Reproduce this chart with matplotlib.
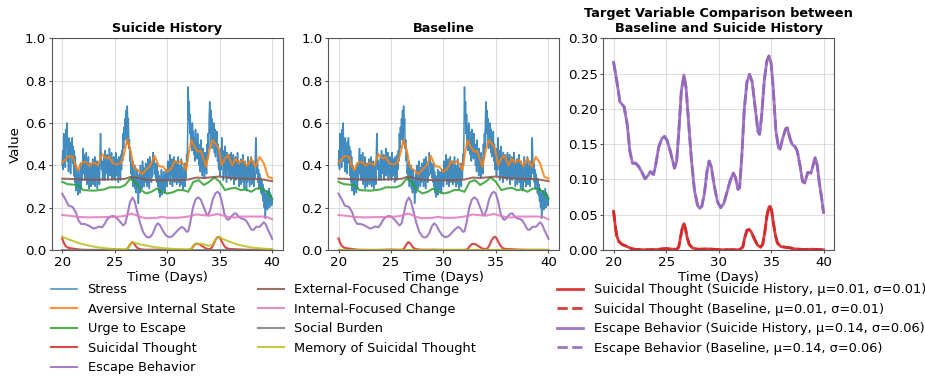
import numpy as np
import matplotlib
matplotlib.use("Agg")
import matplotlib.pyplot as plt

# ---------------- data ----------------
stress_t0, stress_dt = 20.0, 0.05
stress = [
    0.40, 0.47, 0.38, 0.55, 0.44, 0.52, 0.39, 0.57, 0.48, 0.60, 0.42, 0.50, 0.37, 0.53, 0.45, 0.49, 0.36, 0.51, 0.44, 0.53,
    0.41, 0.49, 0.35, 0.47, 0.32, 0.44, 0.28, 0.40, 0.31, 0.36, 0.26, 0.38, 0.30, 0.35, 0.27, 0.41, 0.29, 0.37, 0.33, 0.42,
    0.48, 0.36, 0.45, 0.33, 0.43, 0.37, 0.46, 0.31, 0.40, 0.35, 0.44, 0.29, 0.38, 0.33, 0.41, 0.30, 0.37, 0.34, 0.43, 0.31,
    0.39, 0.32, 0.44, 0.30, 0.38, 0.35, 0.42, 0.29, 0.36, 0.33, 0.40, 0.31, 0.45, 0.55, 0.47, 0.38, 0.42, 0.33, 0.39, 0.35,
    0.44, 0.33, 0.47, 0.36, 0.41, 0.38, 0.45, 0.33, 0.42, 0.36, 0.48, 0.35, 0.43, 0.37, 0.46, 0.33, 0.41, 0.36, 0.44, 0.34,
    0.40, 0.33, 0.46, 0.35, 0.43, 0.37, 0.41, 0.32, 0.44, 0.36, 0.40, 0.33, 0.45, 0.38, 0.47, 0.42, 0.55, 0.48, 0.58, 0.52,
    0.62, 0.55, 0.66, 0.50, 0.68, 0.58, 0.62, 0.48, 0.52, 0.42, 0.46, 0.36, 0.40, 0.33, 0.42, 0.30, 0.37, 0.32, 0.40, 0.29,
    0.34, 0.27, 0.38, 0.30, 0.33, 0.22, 0.30, 0.36, 0.27, 0.40, 0.31, 0.37, 0.29, 0.42, 0.33, 0.39, 0.30, 0.36, 0.32, 0.41,
    0.34, 0.40, 0.30, 0.43, 0.35, 0.39, 0.29, 0.44, 0.36, 0.41, 0.32, 0.38, 0.35, 0.46, 0.40, 0.43, 0.36, 0.41, 0.34, 0.39,
    0.32, 0.41, 0.30, 0.37, 0.27, 0.35, 0.25, 0.33, 0.29, 0.38, 0.26, 0.34, 0.30, 0.37, 0.28, 0.35, 0.27, 0.38, 0.31, 0.36,
    0.30, 0.42, 0.33, 0.40, 0.35, 0.45, 0.31, 0.41, 0.36, 0.43, 0.30, 0.39, 0.34, 0.44, 0.32, 0.40, 0.35, 0.42, 0.31, 0.38,
    0.35, 0.44, 0.32, 0.40, 0.30, 0.38, 0.33, 0.43, 0.31, 0.39, 0.29, 0.36, 0.33, 0.41, 0.30, 0.37, 0.34, 0.45, 0.40, 0.55,
    0.77, 0.62, 0.70, 0.55, 0.64, 0.50, 0.58, 0.47, 0.60, 0.52, 0.56, 0.45, 0.53, 0.42, 0.57, 0.46, 0.51, 0.43, 0.55, 0.44,
    0.50, 0.40, 0.47, 0.37, 0.52, 0.41, 0.45, 0.35, 0.48, 0.39, 0.43, 0.34, 0.46, 0.38, 0.41, 0.36, 0.50, 0.43, 0.55, 0.48,
    0.63, 0.70, 0.55, 0.66, 0.50, 0.62, 0.48, 0.59, 0.52, 0.60, 0.46, 0.57, 0.44, 0.53, 0.48, 0.56, 0.42, 0.50, 0.38, 0.45,
    0.43, 0.35, 0.48, 0.38, 0.53, 0.40, 0.47, 0.33, 0.44, 0.37, 0.49, 0.35, 0.42, 0.32, 0.46, 0.38, 0.43, 0.34, 0.45, 0.36,
    0.41, 0.33, 0.46, 0.37, 0.43, 0.34, 0.45, 0.31, 0.40, 0.36, 0.44, 0.33, 0.41, 0.35, 0.46, 0.34, 0.42, 0.30, 0.39, 0.33,
    0.43, 0.31, 0.40, 0.34, 0.45, 0.32, 0.38, 0.29, 0.42, 0.33, 0.40, 0.28, 0.37, 0.32, 0.44, 0.34, 0.41, 0.30, 0.38, 0.35,
    0.44, 0.31, 0.39, 0.33, 0.42, 0.30, 0.37, 0.34, 0.46, 0.53, 0.44, 0.36, 0.41, 0.32, 0.38, 0.29, 0.36, 0.31, 0.34, 0.27,
    0.33, 0.26, 0.31, 0.23, 0.29, 0.20, 0.27, 0.15, 0.25, 0.21, 0.28, 0.19, 0.26, 0.22, 0.29, 0.20, 0.27, 0.23, 0.26, 0.21,
    0.24,
]

aversive_t = [20.0, 20.3, 20.6, 21.0, 21.3, 21.5, 21.8, 22.2, 22.6, 23.0, 23.4, 23.8, 24.2, 24.5,
              24.8, 25.2, 25.6, 25.9, 26.2, 26.5, 26.8, 27.2, 27.6, 28.0, 28.4, 28.8, 29.2, 29.6,
              30.0, 30.4, 30.7, 31.0, 31.3, 31.6, 31.8, 32.1, 32.3, 32.6, 32.9, 33.2, 33.5, 33.7,
              34.0, 34.3, 34.6, 34.9, 35.2, 35.5, 35.8, 36.2, 36.5, 36.8, 37.2, 37.6, 38.0, 38.4,
              38.8, 39.2, 39.6, 40.0]
aversive = [0.412, 0.428, 0.443, 0.440, 0.393, 0.377, 0.410, 0.417, 0.398, 0.412, 0.400, 0.453,
            0.432, 0.440, 0.410, 0.404, 0.410, 0.456, 0.522, 0.472, 0.393, 0.377, 0.358, 0.380,
            0.400, 0.445, 0.396, 0.393, 0.370, 0.385, 0.420, 0.410, 0.420, 0.400, 0.377, 0.472,
            0.519, 0.487, 0.464, 0.469, 0.425, 0.393, 0.464, 0.519, 0.503, 0.480, 0.400, 0.432,
            0.448, 0.400, 0.432, 0.410, 0.425, 0.396, 0.432, 0.393, 0.440, 0.410, 0.346, 0.338]

urge_t = [20.0, 20.5, 21.5, 22.0, 23.0, 24.0, 24.5, 25.5, 26.0, 26.5, 27.0, 27.5, 28.0, 28.5,
          29.0, 29.5, 30.0, 30.5, 31.0, 31.5, 32.0, 32.5, 33.0, 33.5, 34.0, 34.5, 35.0, 35.5,
          36.0, 36.5, 37.0, 37.5, 38.0, 38.5, 39.0, 39.5, 40.0]
urge = [0.322, 0.311, 0.307, 0.283, 0.280, 0.286, 0.296, 0.296, 0.307, 0.338, 0.318, 0.283,
        0.267, 0.275, 0.290, 0.275, 0.267, 0.272, 0.283, 0.283, 0.275, 0.322, 0.330, 0.307,
        0.322, 0.343, 0.322, 0.283, 0.290, 0.294, 0.283, 0.286, 0.275, 0.290, 0.290, 0.275, 0.244]

thought_t = [20.0, 20.15, 20.3, 20.5, 20.8, 21.1, 21.4, 21.7, 22.0, 23.0, 24.0, 24.6, 25.0, 25.4,
             26.0, 26.2, 26.4, 26.6, 26.7, 26.85, 27.0, 27.2, 27.5, 28.0, 29.0, 30.0, 31.0, 32.0,
             32.3, 32.5, 32.7, 32.9, 33.1, 33.4, 33.7, 34.0, 34.2, 34.4, 34.6, 34.8, 34.9, 35.05,
             35.2, 35.4, 35.6, 35.9, 36.3, 36.8, 37.3, 38.0, 39.0, 40.0]
thought = [0.055, 0.035, 0.020, 0.012, 0.008, 0.006, 0.004, 0.002, 0.001, 0.0003, 0.0005, 0.0015,
           0.002, 0.0015, 0.0008, 0.004, 0.020, 0.035, 0.037, 0.030, 0.018, 0.008, 0.003, 0.001,
           0.0015, 0.0005, 0.0003, 0.0005, 0.004, 0.018, 0.028, 0.029, 0.026, 0.016, 0.007, 0.004,
           0.008, 0.025, 0.048, 0.061, 0.062, 0.056, 0.040, 0.022, 0.010, 0.005, 0.004, 0.003,
           0.0015, 0.0008, 0.001, 0.0003]

escape_t = [20.0, 20.3, 20.6, 21.0, 21.3, 21.55, 21.8, 22.1, 22.4, 22.7, 23.0, 23.3, 23.5, 23.8,
            24.0, 24.3, 24.6, 24.85, 25.1, 25.4, 25.8, 26.0, 26.2, 26.45, 26.7, 26.9, 27.1, 27.4,
            27.7, 28.0, 28.2, 28.4, 28.65, 28.9, 29.1, 29.3, 29.6, 29.9, 30.2, 30.5, 30.8, 31.1,
            31.4, 31.6, 31.85, 32.0, 32.2, 32.45, 32.7, 32.95, 33.2, 33.5, 33.75, 33.9, 34.1, 34.35,
            34.6, 34.8, 35.0, 35.2, 35.45, 35.7, 35.85, 36.1, 36.4, 36.55, 36.8, 37.0, 37.3, 37.5,
            37.75, 38.0, 38.2, 38.5, 38.8, 39.0, 39.2, 39.4, 39.6, 39.8, 40.0]
escape = [0.266, 0.240, 0.210, 0.203, 0.178, 0.140, 0.123, 0.123, 0.118, 0.110, 0.101, 0.106,
          0.111, 0.107, 0.120, 0.146, 0.158, 0.161, 0.155, 0.140, 0.116, 0.125, 0.165, 0.225,
          0.248, 0.230, 0.190, 0.130, 0.085, 0.063, 0.059, 0.062, 0.080, 0.112, 0.126, 0.118,
          0.090, 0.068, 0.060, 0.066, 0.082, 0.098, 0.109, 0.103, 0.086, 0.088, 0.130, 0.200,
          0.238, 0.249, 0.238, 0.200, 0.168, 0.164, 0.190, 0.240, 0.268, 0.275, 0.265, 0.230,
          0.170, 0.145, 0.143, 0.158, 0.172, 0.173, 0.158, 0.150, 0.146, 0.140, 0.120, 0.097,
          0.095, 0.110, 0.109, 0.120, 0.131, 0.120, 0.095, 0.075, 0.053]

external_t = [20, 21, 22, 23, 24, 25, 26, 26.5, 27, 28, 29, 30, 31, 32, 32.8, 33.5, 34.5, 35,
              36, 37, 38, 39, 40]
external = [0.337, 0.335, 0.333, 0.332, 0.333, 0.334, 0.336, 0.345, 0.342, 0.332, 0.330, 0.329,
            0.330, 0.333, 0.342, 0.340, 0.345, 0.347, 0.340, 0.337, 0.336, 0.334, 0.325]

internal_t = [20, 20.5, 21, 21.5, 22.5, 23.5, 24.5, 25.5, 26, 26.6, 27, 27.5, 28, 29, 29.5, 30,
              31, 32, 32.8, 33.3, 34, 34.8, 35.5, 36, 36.5, 37, 38, 39, 39.5, 40]
internal = [0.165, 0.163, 0.160, 0.156, 0.154, 0.155, 0.156, 0.158, 0.162, 0.172, 0.165, 0.155,
            0.150, 0.152, 0.157, 0.152, 0.152, 0.158, 0.168, 0.165, 0.162, 0.170, 0.160, 0.155,
            0.153, 0.158, 0.158, 0.158, 0.156, 0.145]

social_t = [20, 40]
social = [0.0, 0.0]

memory_t = [20.0, 20.5, 21.0, 21.5, 22.0, 22.5, 23.0, 23.5, 24.0, 24.5, 25.0, 25.5, 26.0, 26.3,
            26.5, 26.65, 27.0, 27.5, 28.0, 28.5, 29.0, 29.5, 30.0, 30.5, 31.0, 31.5, 32.0, 32.3,
            32.5, 32.75, 33.0, 33.5, 34.0, 34.3, 34.5, 34.75, 34.95, 35.2, 35.5, 36.0, 36.5, 37.0,
            37.5, 38.0, 38.5, 39.0, 39.5, 40.0]
memory_sh = [0.063, 0.052, 0.043, 0.034, 0.027, 0.021, 0.016, 0.012, 0.009, 0.006, 0.004, 0.003,
             0.002, 0.010, 0.030, 0.037, 0.032, 0.026, 0.021, 0.016, 0.012, 0.009, 0.007, 0.005,
             0.004, 0.003, 0.002, 0.005, 0.022, 0.031, 0.030, 0.026, 0.020, 0.024, 0.042, 0.058,
             0.061, 0.055, 0.048, 0.038, 0.029, 0.022, 0.017, 0.012, 0.009, 0.007, 0.005, 0.004]
memory_base = [0.0] * len(memory_t)

var_names = ["Stress", "Aversive Internal State", "Urge to Escape", "Suicidal Thought",
             "Escape Behavior", "External-Focused Change", "Internal-Focused Change",
             "Social Burden", "Memory of Suicidal Thought"]
panel_titles = ["Suicide History", "Baseline"]
target_stats = {"Suicidal Thought": [(0.01, 0.01), (0.01, 0.01)],
                "Escape Behavior": [(0.14, 0.06), (0.14, 0.06)]}

# ---------------- plot ----------------
plt.rcParams['font.family'] = ['DejaVu Sans']
FS = 9.3
SPINE = '#555555'
fig = plt.figure(figsize=(9.25, 3.77), dpi=100)
W = 0.2497
bottom, height = 0.3369, 0.5615
lefts = [0.0559, 0.3546, 0.652]
axes = [fig.add_axes([l, bottom, W, height]) for l in lefts]

stress_times = stress_t0 + stress_dt * np.arange(len(stress))
colors = [f"C{i}" for i in range(9)]


def style(ax):
    ax.grid(True, alpha=0.4)
    ax.set_xticks([20, 25, 30, 35, 40])
    ax.tick_params(labelsize=FS + 0.3, color=SPINE, length=2.5, pad=1.5)
    for s in ax.spines.values():
        s.set_color(SPINE)
    ax.set_xlabel("Time (Days)", fontsize=FS + 0.3, labelpad=1.5)


for k, ax in enumerate(axes[:2]):
    mem = memory_sh if k == 0 else memory_base
    series = [(stress_times, stress), (aversive_t, aversive), (urge_t, urge),
              (thought_t, thought), (escape_t, escape), (external_t, external),
              (internal_t, internal), (social_t, social), (memory_t, mem)]
    for i, (tt, vv) in enumerate(series):
        ax.plot(tt, vv, color=colors[i], lw=1.1 if i == 0 else 1.5, alpha=0.85,
                label=var_names[i])
    ax.set_ylim(0, 1.0)
    ax.set_title(panel_titles[k], fontsize=FS, fontweight='bold', pad=4.5)
    style(ax)
axes[0].set_ylabel("Value", fontsize=FS + 0.3, labelpad=2)

ax3 = axes[2]
for name, tt, vv, col in [("Suicidal Thought", thought_t, thought, "C3"),
                          ("Escape Behavior", escape_t, escape, "C4")]:
    (m1, s1), (m2, s2) = target_stats[name]
    ax3.plot(tt, vv, color=col, lw=2, alpha=0.9,
             label=f"{name} (Suicide History, \u03bc={m1:.2f}, \u03c3={s1:.2f})")
    ax3.plot(tt, vv, color=col, lw=2, ls='--', alpha=0.9,
             label=f"{name} (Baseline, \u03bc={m2:.2f}, \u03c3={s2:.2f})")
ax3.set_ylim(0, 0.30)
ax3.set_title("Target Variable Comparison between\nBaseline and Suicide History",
              fontsize=FS, fontweight='bold', pad=4.5)
style(ax3)

h, l = axes[0].get_legend_handles_labels()
fig.legend(h, l, loc='upper left', bbox_to_anchor=(0.043, 0.279), ncol=2, frameon=False,
           fontsize=FS, columnspacing=1.8)
h3, l3 = ax3.get_legend_handles_labels()
fig.legend(h3, l3, loc='upper left', bbox_to_anchor=(0.590, 0.279), ncol=1, frameon=False,
           fontsize=FS)

fig.savefig("out.png", dpi=100)
